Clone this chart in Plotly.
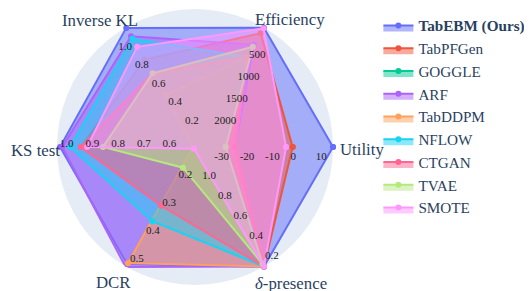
import math
import plotly.graph_objects as go

# ---------------- data ----------------
axes_names = ["Utility", "Efficiency", "Inverse KL", "KS test", "DCR", "<i>δ</i>-presence"]
# value at centre (lo) and at outer edge (hi) of each axis
axis_lo = [-37.6, 2779, -0.0149, 0.474, 0.101, 1.213]
axis_hi = [16.8, 0.0, 1.0936, 1.011, 0.528, 0.127]

tick_vals = [
    [-30, -20, -10, 0, 10],
    [500, 1000, 1500, 2000],
    [0.2, 0.4, 0.6, 0.8, 1.0],
    [0.6, 0.7, 0.8, 0.9, 1.0],
    [0.2, 0.3, 0.4, 0.5],
    [0.2, 0.4, 0.6, 0.8, 1.0],
]
tick_text = [
    ["-30", "-20", "-10", "0", "10"],
    ["500", "1000", "1500", "2000"],
    ["0.2", "0.4", "0.6", "0.8", "1.0"],
    ["0.6", "0.7", "0.8", "0.9", "1.0"],
    ["0.2", "0.3", "0.4", "0.5"],
    ["0.2", "0.4", "0.6", "0.8", "1.0"],
]

methods = ["<b>TabEBM (Ours)</b>", "TabPFGen", "GOGGLE", "ARF", "TabDDPM", "NFLOW", "CTGAN", "TVAE", "SMOTE"]
# values per method: Utility, Efficiency, Inverse KL, KS test, DCR, delta-presence
tabebm   = [16.8, 5, 1.09, 0.999, 0.52, 0.127]
tabpfgen = [0.9, 135, 0.796, 0.918, 0.311, 0.127]
goggle   = [None, None, None, None, None, None]
arf      = [-21.8, 403, 1.013, 0.991, 0.530, 0.127]
tabddpm  = [-21.8, 685, 0.467, 0.482, 0.516, 0.127]
nflow    = [-25.5, 685, 0.989, 0.960, 0.366, 0.127]
ctgan    = [-21.8, 685, 0.668, 0.918, 0.311, 0.127]
tvae     = [-25.5, 447, 0.668, 0.832, 0.175, 0.151]
smote    = [-1.7, 20, 0.914, 0.894, 0.107, 0.127]
series = [tabebm, tabpfgen, goggle, arf, tabddpm, nflow, ctgan, tvae, smote]
colors = ["#636EFA", "#EF553B", "#00CC96", "#AB63FA", "#FFA15A", "#19D3F3", "#FF6692", "#B6E880", "#FF97FF"]

# ---------------- layout constants ----------------
FONT = "Liberation Serif, Times New Roman, serif"
W, H = 524, 283
RPX = 138                       # polar radius in px
CX, CY = 187, 139               # polar centre in px
ML, MT = CX - RPX, CY - RPX
MR, MB = W - (CX + RPX), H - (CY + RPX)
PW, PH = W - ML - MR, H - MT - MB

# tick-label rows: direction of the row (deg), perpendicular offset (px), shift along row (px)
label_phi = [0, 62, 132, 180, 240, 308]
label_d = [9.7, 4.3, 10.6, 3.7, 0.7, 11.85]
label_t0 = [0, -6, 0, 0, 0, 0]
TEXT_DY = 1.0                   # 'middle right' text sits ~1px above its anchor


def norm(v, i):
    if v is None:
        return None
    return (v - axis_lo[i]) / (axis_hi[i] - axis_lo[i])


fig = go.Figure()
for name, vals, col in zip(methods, series, colors):
    r = [norm(v, i) for i, v in enumerate(vals)]
    fig.add_trace(go.Scatterpolar(
        r=r + r[:1], theta=axes_names + axes_names[:1], name=name,
        mode="lines+markers", fill="toself", line=dict(color=col, width=2),
        marker=dict(size=6, color=col), subplot="polar"))

# tick labels of the six value axes, placed through the same normalisation
lab_r, lab_t, lab_s = [], [], []
for i in range(len(axes_names)):
    ph = math.radians(label_phi[i])
    ux, uy = math.cos(ph), -math.sin(ph)
    nx, ny = math.sin(ph), math.cos(ph)
    for v, s in zip(tick_vals[i], tick_text[i]):
        t = RPX * norm(v, i) + label_t0[i]
        x = t * ux + label_d[i] * nx
        y = t * uy + label_d[i] * ny + TEXT_DY
        lab_r.append(math.hypot(x, y) / RPX)
        lab_t.append(math.degrees(math.atan2(-y, x)))
        lab_s.append(s)
fig.add_trace(go.Scatterpolar(r=lab_r, theta=lab_t, text=lab_s, mode="text",
                              textposition="middle right", cliponaxis=False,
                              textfont=dict(family=FONT, size=11, color="#222222"),
                              showlegend=False, hoverinfo="skip", subplot="polar2"))

# axis titles (pixel placement -> paper coordinates)
title_px = [(330, 141, "left"), (281.5, 12, "center"), (91.5, 13, "center"),
            (54, 142, "right"), (105.5, 274, "center"), (283, 275, "center")]
annotations = []
for t, (x, y, xa) in zip(axes_names, title_px):
    annotations.append(dict(text=t, x=(x - ML) / PW, y=1 - (y - MT) / PH, xref="paper", yref="paper",
                            xanchor=xa, yanchor="middle", showarrow=False,
                            font=dict(family=FONT, size=16.8, color="#2a3f5f")))

full = dict(x=[0, 1], y=[0, 1])
fig.update_layout(
    width=W, height=H,
    margin=dict(l=ML, r=MR, t=MT, b=MB, autoexpand=False),
    paper_bgcolor="white",
    font=dict(family=FONT, size=16, color="#2a3f5f"),
    showlegend=True,
    legend=dict(x=1.1645, y=1.0, xanchor="left", yanchor="top",
                font=dict(family=FONT, size=15.2, color="#2a3f5f"),
                bgcolor="rgba(0,0,0,0)"),
    polar=dict(domain=full, bgcolor="#E5ECF6",
               radialaxis=dict(range=[0, 1], visible=False),
               angularaxis=dict(direction="counterclockwise", rotation=0, showgrid=False,
                                showline=False, ticks="", showticklabels=False)),
    polar2=dict(domain=full, bgcolor="rgba(0,0,0,0)",
                radialaxis=dict(range=[0, 1], visible=False),
                angularaxis=dict(visible=False, direction="counterclockwise", rotation=0)),
    annotations=annotations,
)
fig.write_html("out.html")
